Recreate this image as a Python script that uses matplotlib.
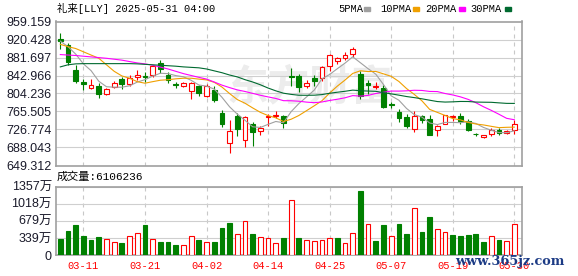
import numpy as np
import matplotlib
matplotlib.use('Agg')
import matplotlib.pyplot as plt
from matplotlib.patches import Rectangle

# 日K数据 (礼来 LLY, 2025-03-06 ~ 2025-05-30)
opens = [921, 908, 854, 829, 816, 821, 803, 819, 836, 824,
         840, 841, 845, 870, 844, 824, 821, 809, 821, 798,
         811, 763, 698, 755, 705, 738, 723, 754, 756, 756,
         842, 842, 821, 838, 838, 863, 874, 880, 890, 847,
         826, 818, 816, 782, 764, 754, 727, 755, 749, 726,
         739, 754, 755, 745, 718, 711, 718, 725, 720, 726]
highs = [934, 913, 866, 836, 835, 826, 816, 831, 839, 844,
         854, 851, 865, 876, 851, 829, 829, 829, 822, 824,
         821, 768, 748, 763, 755, 743, 734, 761, 766, 759,
         859, 847, 834, 845, 863, 889, 883, 893, 905, 852,
         833, 830, 822, 787, 770, 761, 766, 759, 759, 737,
         759, 759, 762, 750, 720, 716, 731, 729, 726, 747]
lows = [901, 865, 826, 811, 813, 795, 800, 817, 813, 821,
        833, 829, 840, 849, 827, 816, 818, 792, 799, 797,
        787, 733, 677, 713, 689, 691, 714, 734, 752, 730,
        820, 808, 816, 820, 831, 852, 867, 876, 883, 793,
        804, 813, 772, 773, 742, 729, 721, 741, 714, 713,
        738, 746, 738, 723, 713, 708, 713, 714, 717, 718]
closes = [917, 872, 831, 825, 822, 803, 813, 826, 825, 837,
          843, 839, 864, 856, 833, 822, 826, 826, 806, 820,
          791, 738, 723, 727, 754, 721, 731, 756, 758, 741,
          840, 818, 827, 832, 862, 887, 880, 887, 900, 798,
          823, 821, 775, 779, 751, 734, 755, 748, 716, 734,
          757, 755, 745, 725, 717, 714, 725, 720, 723, 738]
# 成交量, 万股
volumes = [318, 483, 596, 377, 298, 358, 318, 252, 238, 371,
           430, 596, 318, 258, 258, 199, 199, 371, 298, 258,
           258, 536, 636, 411, 676, 417, 351, 331, 232, 338,
           1087, 338, 298, 278, 298, 331, 338, 232, 430, 1272,
           609, 278, 589, 371, 616, 411, 927, 457, 755, 510,
           450, 397, 377, 397, 417, 258, 371, 304, 278, 610.6]

ma5 = [917, 905, 889, 868, 853.4, 830.6, 818.8, 817.8, 817.8, 820.8,
       828.8, 834.0, 841.6, 847.8, 847.0, 842.8, 840.2, 832.6, 822.6, 820.0,
       813.8, 796.2, 775.6, 759.8, 746.6, 732.6, 731.2, 737.8, 744.0, 741.4,
       765.2, 782.6, 796.8, 811.6, 835.8, 845.2, 857.6, 869.6, 883.2, 870.4,
       857.6, 845.8, 823.4, 799.2, 789.8, 772.0, 758.8, 753.4, 740.8, 737.4,
       742.0, 742.0, 741.4, 743.2, 739.8, 731.2, 725.2, 720.2, 719.8, 724.0]
ma10 = [910, 905, 901, 894, 887, 880, 866, 852, 842, 837.1,
        829.7, 826.4, 829.7, 832.8, 833.9, 835.8, 837.1, 837.1, 835.2, 833.5,
        828.3, 818.2, 804.1, 791.2, 783.3, 773.2, 763.7, 756.7, 751.9, 744.0,
        748.9, 756.9, 767.3, 777.8, 788.6, 805.2, 820.1, 833.2, 847.4, 853.1,
        851.4, 851.7, 846.5, 841.2, 830.1, 814.8, 802.3, 788.4, 770.0, 763.6,
        757.0, 750.4, 747.4, 742.0, 738.6, 736.6, 733.6, 730.8, 731.5, 731.9]
ma20 = [888, 887, 886, 884.5, 883, 881.5, 880, 878, 876, 873,
        870, 868, 865, 861, 857, 852, 847, 843, 839, 835.3,
        829.0, 822.3, 816.9, 812.0, 808.6, 804.5, 800.4, 796.9, 793.6, 788.8,
        788.6, 787.6, 785.7, 784.5, 786.0, 789.2, 791.9, 795.0, 799.7, 798.6,
        800.2, 804.3, 806.9, 809.5, 809.4, 810.0, 811.2, 810.8, 808.7, 808.4,
        804.2, 801.1, 797.0, 791.6, 784.4, 775.7, 768.0, 759.6, 750.8, 747.8]
ma30 = [861.5, 866, 868, 868.5, 868.5, 868.5, 868.5, 868.5, 868.5, 868.5,
        868, 867, 866, 865, 864, 863, 861.5, 860.5, 859.5, 857,
        853, 849, 844, 840, 834, 829, 823, 816, 810, 804.9,
        802.3, 800.5, 800.4, 800.6, 801.9, 804.7, 807.0, 809.0, 811.5, 810.2,
        809.5, 808.9, 806.0, 803.4, 800.7, 797.7, 795.4, 792.8, 789.8, 786.9,
        785.8, 786.3, 787.1, 787.0, 785.8, 785.5, 785.3, 784.1, 783.0, 782.9]

tick_pos = [3, 11, 19, 27, 35, 43, 51, 59]
tick_labels = ['03-11', '03-21', '04-02', '04-14', '04-25', '05-07', '05-19', '05-30']
price_ticks = [649.312, 688.043, 726.774, 765.505, 804.236, 842.966, 881.697, 920.428, 959.159]
vol_ticks = [0, 339, 679, 1018, 1357]
vol_tick_labels = ['0', '339万', '679万', '1018万', '1357万']

title = '礼来[LLY] 2025-05-31 04:00'
vol_title = '成交量:6106236'
ma_names = ['5PMA', '10PMA', '20PMA', '30PMA']
ma_colors = ['#a0a0a0', '#f0a000', '#ff00ff', '#006a30']

RED = '#ff0000'
GREEN = '#008000'
MONO = ['Liberation Mono', 'Noto Sans CJK SC']
SANS = ['Liberation Sans', 'Noto Sans CJK SC']

o = np.array(opens, float)
h = np.array(highs, float)
l = np.array(lows, float)
c = np.array(closes, float)
v = np.array(volumes, float)
x = np.arange(len(c))
up = c >= o
vol_up = np.r_[False, c[1:] >= c[:-1]]  # 量柱颜色按收盘价涨跌

W, H = 578, 276
fig = plt.figure(figsize=(W / 100, H / 100), dpi=100)
fig.patch.set_facecolor('white')

def px(x0, y0, x1, y1):
    # 像素坐标 -> figure 比例
    return [x0 / W, 1 - y1 / H, (x1 - x0) / W, (y1 - y0) / H]

ax = fig.add_axes(px(56, 21.5, 521.7, 165.5))
axv = fig.add_axes(px(56, 186.7, 521.7, 255))

for a in (ax, axv):
    a.set_xlim(-0.56, 59.96)
    a.set_xticks(tick_pos)
    for s in a.spines.values():
        s.set_color('#a0a0a0')
        s.set_linewidth(1.2)
    a.xaxis.grid(True, color='#c8c8c8', lw=0.8, ls=(0, (3.6, 3.6)))
    a.yaxis.grid(True, color='#cfcfcf', lw=0.8, ls='-')
    a.set_axisbelow(True)
    a.tick_params(length=0, pad=3)

# 背景水印
ax.text(0.545, 0.54, '东方财富', transform=ax.transAxes, ha='center', va='center',
        fontsize=30, fontweight='bold', color='#ececec', family=SANS, zorder=0)

# K线
ax.vlines(x, l, h, colors=np.where(up, RED, GREEN), lw=0.8, zorder=2)
body_h = np.maximum(np.abs(c - o), 0.8)
body_b = np.minimum(o, c)
ax.bar(x, body_h, bottom=body_b, width=0.62,
       facecolor=np.where(up, 'white', GREEN), edgecolor=np.where(up, RED, GREEN),
       lw=0.8, zorder=3)

for ma, col in zip([ma5, ma10, ma20, ma30], ma_colors):
    ax.plot(x, ma, color=col, lw=0.8, zorder=4)

ax.set_ylim(price_ticks[0], price_ticks[-1])
ax.set_yticks(price_ticks)
ax.set_yticklabels(['%.3f' % p for p in price_ticks], fontsize=9, family=SANS, color='#1a1a2a')
ax.set_xticklabels([])

# 成交量
axv.bar(x, v, width=0.62, facecolor=np.where(vol_up, 'white', GREEN),
        edgecolor=np.where(vol_up, RED, GREEN), lw=0.8, zorder=3)
axv.set_ylim(0, vol_ticks[-1])
axv.set_yticks(vol_ticks)
axv.set_yticklabels(vol_tick_labels, fontsize=9, family=SANS, color='#1a1a2a')
axv.set_xticklabels(tick_labels, fontsize=7.5, family=MONO, color=RED)
axv.tick_params(axis='x', pad=4)

# 标题和图例
fig.text(57 / W, 1 - 8.5 / H, title, fontsize=7.5, family=MONO, va='center', ha='left')
fig.text(57 / W, 1 - 177 / H, vol_title, fontsize=8, family=MONO, va='center', ha='left')

leg_x = [338, 380, 425, 470]
patch_x = [364, 413, 459, 505]
for name, col, tx, pxx in zip(ma_names, ma_colors, leg_x, patch_x):
    fig.text(tx / W, 1 - 8.5 / H, name, fontsize=7.5, family=MONO, va='center', ha='left')
    fig.patches.append(Rectangle((pxx / W, 1 - 10.5 / H), 6 / W, 4 / H,
                                 transform=fig.transFigure, color=col))

# 网站水印
fig.text(455 / W, 1 - 262 / H, 'www.365jz.com', fontsize=9.3, fontweight='bold',
         family='DejaVu Serif', color='#1c3b85', va='center', ha='left', zorder=10)

plt.savefig('out.png', dpi=100, facecolor='white')
